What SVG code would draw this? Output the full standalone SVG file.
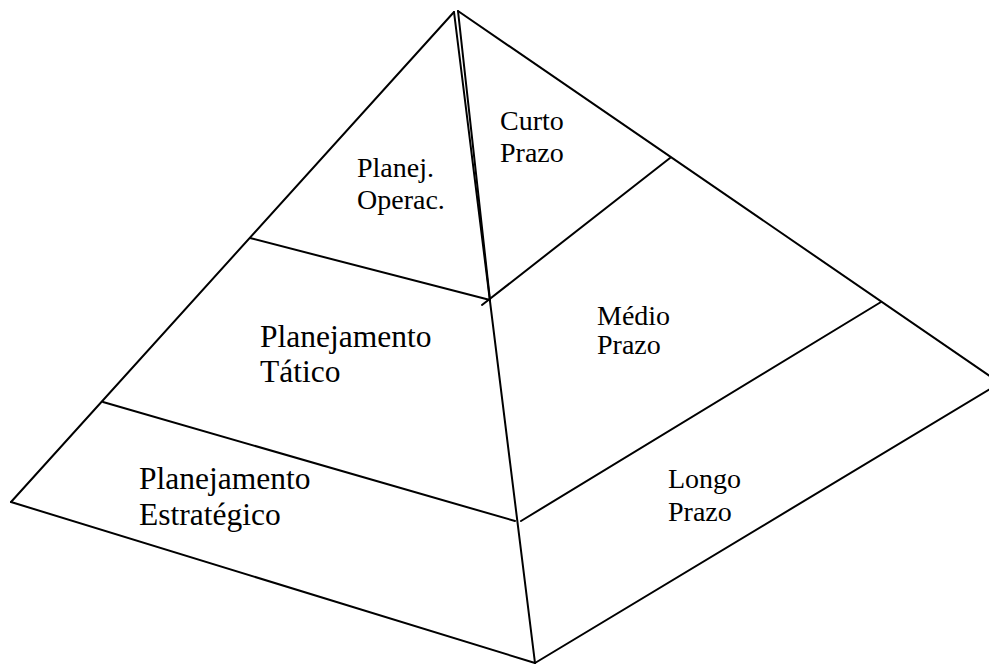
<svg xmlns="http://www.w3.org/2000/svg" width="989" height="665" viewBox="0 0 989 665">
<style>
.l{stroke:#000;stroke-width:2;fill:none;stroke-linecap:round}
.t{font-family:"Liberation Serif","Times New Roman",serif;fill:#000}
.s{font-size:28px}
.b{font-size:31.5px}
</style>
<rect width="989" height="665" fill="#fff"/>
<g id="connectors">
<line class="l" x1="454" y1="12" x2="11" y2="502"/>
<line class="l" x1="11" y1="502" x2="535" y2="663"/>
<line class="l" x1="454" y1="12" x2="535" y2="663"/>
<line class="l" x1="458" y1="11" x2="490" y2="300"/>
<line class="l" x1="458" y1="11" x2="1000" y2="383"/>
<line class="l" x1="535" y1="663" x2="1000" y2="383"/>
<line class="l" x1="250" y1="238" x2="490" y2="300"/>
<line class="l" x1="103" y1="402" x2="515" y2="521"/>
<line class="l" x1="670" y1="158" x2="482" y2="305"/>
<line class="l" x1="881" y1="302" x2="521" y2="521"/>
</g>
<g id="operacional"><text class="t s" x="357" y="177">Planej.</text><text class="t s" x="357" y="209">Operac.</text></g>
<g id="tatico"><text class="t b" x="260" y="347">Planejamento</text><text class="t b" x="260" y="382">Tático</text></g>
<g id="estrategico"><text class="t b" x="139" y="489">Planejamento</text><text class="t b" x="139" y="525">Estratégico</text></g>
<g id="curto"><text class="t s" x="500" y="130">Curto</text><text class="t s" x="500" y="162">Prazo</text></g>
<g id="medio"><text class="t s" x="597" y="325">Médio</text><text class="t s" x="597" y="354">Prazo</text></g>
<g id="longo"><text class="t s" x="668" y="488">Longo</text><text class="t s" x="668" y="521">Prazo</text></g>
</svg>
